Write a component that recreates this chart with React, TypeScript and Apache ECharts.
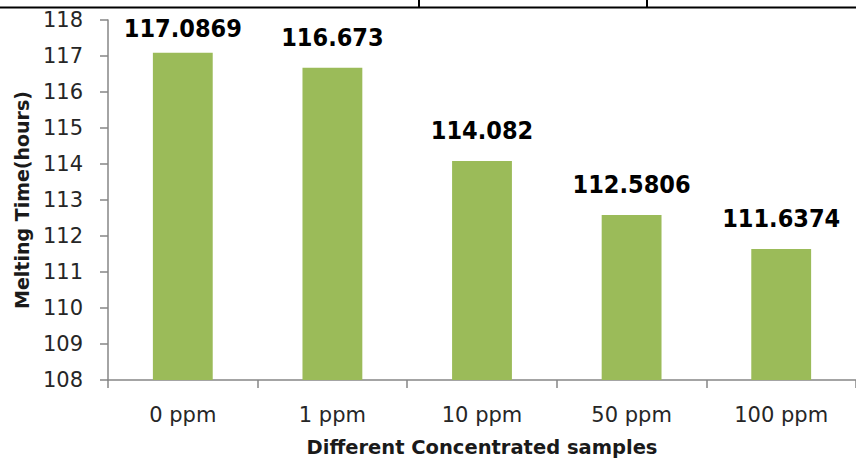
import React, { useEffect, useRef } from "react";
import * as echarts from "echarts";

const categories = ["0 ppm", "1 ppm", "10 ppm", "50 ppm", "100 ppm"];
const meltingTimes = [117.0869, 116.673, 114.082, 112.5806, 111.6374];
const valueLabels = ["117.0869", "116.673", "114.082", "112.5806", "111.6374"];
const yMin = 108;
const yMax = 118;
const yStep = 1;

export default function App() {
  const ref = useRef<HTMLDivElement>(null);
  useEffect(() => {
    if (!ref.current) return;
    const chart = echarts.init(ref.current, null, { renderer: "svg" });
    const axisGray = "#868686";
    chart.setOption({
      animation: false,
      backgroundColor: "#ffffff",
      grid: { left: 108, right: -5, top: 20, bottom: 90, containLabel: false },
      xAxis: {
        type: "category",
        data: categories,
        boundaryGap: true,
        name: "Different Concentrated samples",
        nameLocation: "middle",
        nameGap: 57,
        nameTextStyle: {
          fontFamily: "DejaVu Sans",
          fontWeight: "bold",
          fontSize: 19.5,
          color: "#1a1a1a",
        },
        axisLine: { show: true, lineStyle: { color: axisGray, width: 1.5 } },
        axisTick: { show: true, inside: false, length: 8, alignWithLabel: false, lineStyle: { color: axisGray, width: 1.5 } },
        axisLabel: {
          margin: 24,
          fontFamily: "DejaVu Sans",
          fontSize: 21,
          color: "#262626",
        },
        splitLine: { show: false },
      },
      yAxis: {
        type: "value",
        min: yMin,
        max: yMax,
        interval: yStep,
        name: "Melting Time(hours)",
        nameLocation: "middle",
        nameGap: 77,
        nameRotate: 90,
        nameTextStyle: {
          fontFamily: "DejaVu Sans",
          fontWeight: "bold",
          fontSize: 19,
          color: "#1a1a1a",
        },
        axisLine: { show: true, lineStyle: { color: axisGray, width: 1.5 } },
        axisTick: { show: true, inside: false, length: 8, lineStyle: { color: axisGray, width: 1.5 } },
        axisLabel: {
          margin: 25,
          fontFamily: "DejaVu Sans",
          fontSize: 21,
          color: "#262626",
        },
        splitLine: { show: false },
      },
      series: [
        {
          type: "bar",
          data: meltingTimes.map((v, i) =>
            i === 0 ? { value: v, label: { distance: 12 } } : v
          ),
          barWidth: "40%",
          itemStyle: { color: "#9BBB59" },
          label: {
            show: true,
            position: "top",
            distance: 18,
            formatter: (p: any) => valueLabels[p.dataIndex],
            fontFamily: "DejaVu Sans Condensed, DejaVu Sans",
            fontWeight: "bold",
            fontSize: 25,
            color: "#000000",
          },
        },
      ],
      graphic: [
        { type: "line", shape: { x1: 0, y1: 7.5, x2: 856, y2: 7.5 }, style: { stroke: "#000", lineWidth: 2 } },
        { type: "line", shape: { x1: 419, y1: 0, x2: 419, y2: 7 }, style: { stroke: "#000", lineWidth: 2 } },
        { type: "line", shape: { x1: 647, y1: 0, x2: 647, y2: 7 }, style: { stroke: "#000", lineWidth: 2 } },
      ],
    });
    return () => chart.dispose();
  }, []);
  return (
    <div
      ref={ref}
      style={{ position: "fixed", left: 0, top: 0, width: 856, height: 470 }}
    />
  );
}
